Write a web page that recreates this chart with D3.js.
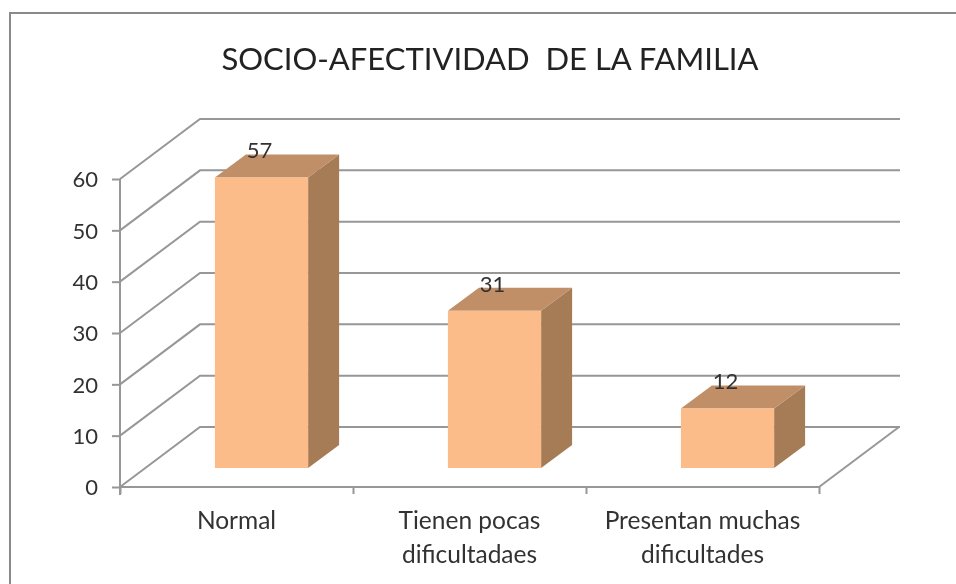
<!DOCTYPE html>
<html>
<head>
<meta charset="utf-8">
<script src="https://cdn.jsdelivr.net/npm/d3@7"></script>
<style>
html,body{margin:0;padding:0;background:#fff}
svg{display:block}
text{font-family:Lato,"Open Sans",sans-serif;fill:#333;white-space:pre}
</style>
</head>
<body>
<svg></svg>
<script>
let categories=["Normal","Tienen pocas","Presentan muchas"]
let categoryLines2=["","dificultadaes","dificultades"]
let values=[57,31,12]
let yTicks=[0,10,20,30,40,50,60]
let title="SOCIO-AFECTIVIDAD  DE LA FAMILIA"

let width=956
let height=584
let left=120
let right=819
let bottom=487
let top_=179
let depthX=80   // how far the back wall sits from the front axis
let depthY=60
let barFrontX=25  // bars stand part of the way into the floor
let barFrontY=19
let barDepthX=31
let barDepthY=23
let gridColor='#979797'

let svg=d3.select('svg').attr('width',width).attr('height',height)

let xScale=d3.scaleBand().domain(categories).range([left,right]).paddingInner(0.6).paddingOuter(0.3)
let xTickScale=d3.scalePoint().domain([0,1,2,3]).range([left,right])
let yScale=d3.scaleLinear().domain([0,60]).range([bottom,top_])

let soft=svg.append('defs').append('filter').attr('id','soft')
soft.append('feGaussianBlur').attr('stdDeviation',0.6)

// chart frame, only top and left show up in the picture
svg.append('path')
    .attr('d','M10,'+height+'V13H'+width)
    .attr('fill','none')
    .attr('stroke','#8a8a8a')
    .attr('stroke-width',2)
    .attr('filter','url(#soft)')

svg.append('text')
    .attr('x',490)
    .attr('y',70)
    .attr('text-anchor','middle')
    .style('font-size','31px')
    .style('fill','#222')
    .attr('filter','url(#soft)')
    .text(title)

let grid=svg.append('g').attr('fill','none').attr('stroke',gridColor).attr('stroke-width',2).attr('filter','url(#soft)')
grid.selectAll('path')
    .data(yTicks)
    .enter()
    .append('path')
    .attr('d',(item)=>{
        let y=yScale(item)
        return 'M'+left+','+y+'L'+(left+depthX)+','+(y-depthY)+'H'+(right+depthX+1)
    })
grid.append('path')
    .attr('d','M'+right+','+bottom+'L'+(right+depthX)+','+(bottom-depthY))

let yAxis=d3.axisLeft(yScale).tickValues(yTicks).tickSize(8).tickPadding(14)
let gy=svg.append('g')
    .attr('transform','translate('+left+',0)')
    .call(yAxis)
    .attr('filter','url(#soft)')
gy.select('.domain').attr('stroke',gridColor).attr('stroke-width',2).attr('d','M0,'+top_+'V'+(bottom+8))
gy.selectAll('line').attr('stroke',gridColor).attr('stroke-width',2)
gy.selectAll('text').style('font-size','22px').attr('font-family',null).attr('dy','0.36em')

let xAxis=d3.axisBottom(xTickScale).tickSize(7).tickFormat('')
let gx=svg.append('g')
    .attr('transform','translate(0,'+bottom+')')
    .call(xAxis)
    .attr('filter','url(#soft)')
gx.select('.domain').attr('stroke',gridColor).attr('stroke-width',2).attr('d','M'+left+',0H'+right)
gx.selectAll('line').attr('stroke',gridColor).attr('stroke-width',2)

let bars=svg.selectAll('.bar')
    .data(categories)
    .enter()
    .append('g')
    .attr('class','bar')
    .attr('filter','url(#soft)')

let barTop=(i)=>yScale(values[i])-barFrontY+2
let barBase=bottom-barFrontY
let barX=(c)=>xScale(c)+barFrontX

bars.append('path')
    .attr('fill','#a67c57')
    .attr('d',(c,i)=>{
        let x=barX(c)+xScale.bandwidth()
        return 'M'+x+','+barBase+'V'+barTop(i)+'l'+barDepthX+','+(-barDepthY)+'V'+(barBase-barDepthY)+'Z'
    })
bars.append('path')
    .attr('fill','#c08f68')
    .attr('d',(c,i)=>{
        let x=barX(c)
        let y=barTop(i)
        return 'M'+x+','+y+'l'+barDepthX+','+(-barDepthY)+'h'+xScale.bandwidth()+'l'+(-barDepthX)+','+barDepthY+'Z'
    })
bars.append('rect')
    .attr('fill','#fbbc8a')
    .attr('x',(c)=>barX(c))
    .attr('y',(c,i)=>barTop(i))
    .attr('width',xScale.bandwidth())
    .attr('height',(c,i)=>barBase-barTop(i))

svg.selectAll('.value')
    .data(values)
    .enter()
    .append('text')
    .attr('class','value')
    .attr('x',(v,i)=>barX(categories[i])+xScale.bandwidth()/2-2)
    .attr('y',(v,i)=>barTop(i)-19)
    .attr('text-anchor','middle')
    .style('font-size','22px')
    .attr('filter','url(#soft)')
    .text((v)=>v)

let labels=svg.selectAll('.cat')
    .data(categories)
    .enter()
    .append('text')
    .attr('class','cat')
    .attr('text-anchor','middle')
    .style('font-size','24.5px')
    .attr('filter','url(#soft)')
labels.append('tspan')
    .attr('x',(c)=>xScale(c)+xScale.bandwidth()/2)
    .attr('y',529)
    .text((c)=>c)
labels.append('tspan')
    .attr('x',(c)=>xScale(c)+xScale.bandwidth()/2)
    .attr('y',563)
    .text((c,i)=>categoryLines2[i])
</script>
</body>
</html>
